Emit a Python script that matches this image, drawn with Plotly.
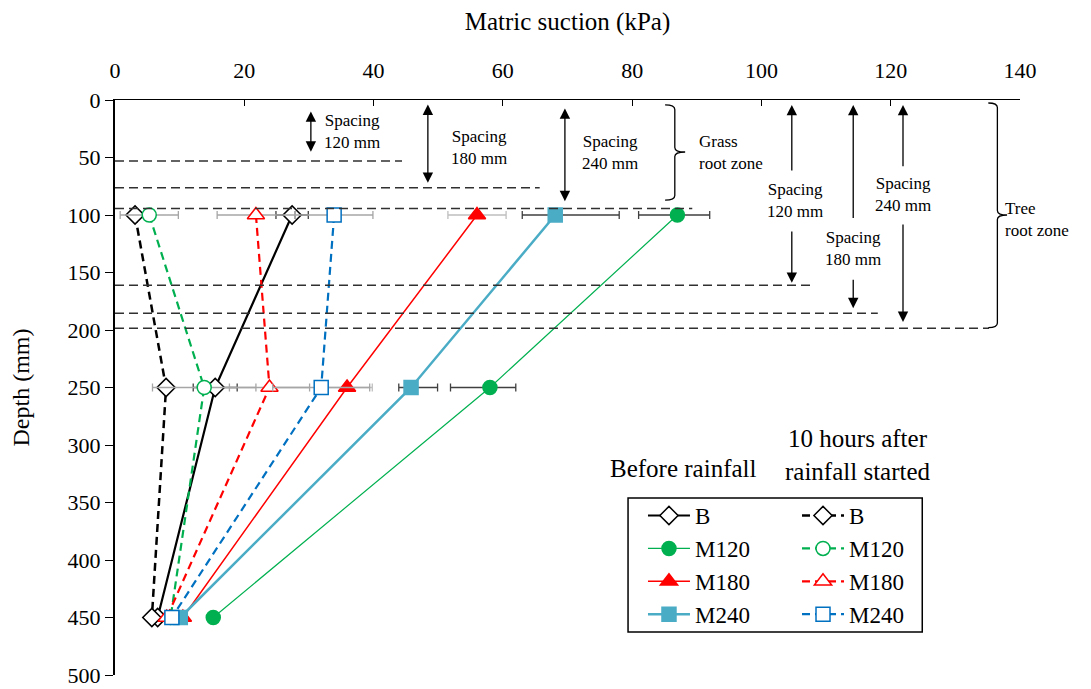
import plotly.graph_objects as go

# ---------------- data ----------------
depth = [100, 250, 450]
b_before = [27.4, 15.5, 6.6]
b_after = [3.1, 7.9, 5.7]
m120_before = [87.0, 58.0, 15.2]
m120_after = [5.3, 13.8, 8.6]
m180_before = [56.0, 35.9, 10.5]
m180_after = [21.8, 23.9, 8.0]
m240_before = [68.1, 45.8, 10.1]
m240_after = [33.9, 31.9, 8.8]

# error bars (kPa) at depth 100 and 250 only
b_before_err = [2.5, 3.4]
m120_before_err_plus = [5.0, 4.0]
m120_before_err_minus = [6.0, 6.1]
m120_after_err = [4.5, 8.0]
m180_before_err = [4.5, 3.9]
m180_after_err = [6.0, 6.2]
m240_before_err_plus = [9.9, 4.1]
m240_before_err_minus = [5.1, 1.9]
m240_after_err = [6.0, 7.5]

x_ticks = [0, 20, 40, 60, 80, 100, 120, 140]
y_ticks = [0, 50, 100, 150, 200, 250, 300, 350, 400, 450, 500]

FONT = "Liberation Serif, Times New Roman, serif"
BLACK = "#000000"
GREEN = "#00B050"
RED = "#FF0000"
CYAN = "#4BACC6"
BLUE = "#0070C0"
DARKBAR = "#404040"
GRAYBAR = "#A6A6A6"

# the page body has an 8px margin: offset the figure so it sits in the window
PAGE_OFF = 8
W, H = 1091 - PAGE_OFF, 689 - PAGE_OFF

fig = go.Figure()


def err(plus, minus=None, color=GRAYBAR):
    d = dict(type="data", array=plus, color=color, thickness=1.3, width=4, visible=True)
    if minus is not None:
        d["symmetric"] = False
        d["arrayminus"] = minus
    return d


def add(x, name, color, width, dash, symbol, filled, legend, size=14, error=None):
    fig.add_trace(go.Scatter(
        x=x, y=depth, name=name, mode="lines+markers", legend=legend,
        line=dict(color=color, width=width, dash=dash),
        marker=dict(symbol=symbol, size=size,
                    color=color if filled else "white",
                    line=dict(color=color, width=1.5)),
        error_x=error, cliponaxis=False,
    ))


DASH = "8px,5px"
# before rainfall (legend 1)
add(b_before, "B", BLACK, 2.2, "solid", "diamond", False, "legend", 14, err(b_before_err, color=DARKBAR))
add(m120_before, "M120", GREEN, 1.2, "solid", "circle", True, "legend", 14,
    err(m120_before_err_plus, m120_before_err_minus, DARKBAR))
add(m180_before, "M180", RED, 1.5, "solid", "triangle-up", True, "legend", 15, err(m180_before_err, color="#BFBFBF"))
add(m240_before, "M240", CYAN, 2.5, "solid", "square", True, "legend", 14,
    err(m240_before_err_plus, m240_before_err_minus, DARKBAR))
# 10 hours after rainfall started (legend 2)
add(b_after, "B", BLACK, 2.5, DASH, "diamond", False, "legend2", 14)
add(m120_after, "M120", GREEN, 2.2, DASH, "circle", False, "legend2", 14, err(m120_after_err))
add(m180_after, "M180", RED, 2.2, DASH, "triangle-up", False, "legend2", 15, err(m180_after_err))
add(m240_after, "M240", BLUE, 2.2, DASH, "square", False, "legend2", 14, err(m240_after_err))

# ---------------- annotation geometry ----------------
shapes = []
# horizontal dashed root-depth lines: (depth, x_end)
for d, xe in [(53, 44.4), (76.3, 65.7), (94.3, 89.3), (161, 107.7), (185.4, 118), (198.5, 135.2)]:
    shapes.append(dict(type="line", xref="x", yref="y", x0=0, x1=xe, y0=d, y1=d,
                       line=dict(color="#303030", width=1.5, dash="9px,5px"), layer="above"))


def brace(xl, xv, xt, yt, ym, yb, r):
    return (f"M{xl},{yt} Q{xv},{yt} {xv},{yt + r} L{xv},{ym - r} Q{xv},{ym} {xt},{ym} "
            f"Q{xv},{ym} {xv},{ym + r} L{xv},{yb - r} Q{xv},{yb} {xl},{yb}")


shapes.append(dict(type="path", xref="x", yref="y", path=brace(85.1, 86.6, 88.2, 4.3, 45.2, 87, 4),
                   line=dict(color="#000000", width=1.3)))
shapes.append(dict(type="path", xref="x", yref="y", path=brace(135.1, 136.5, 138.0, 2.6, 100, 198, 4),
                   line=dict(color="#000000", width=1.3)))
# legend border
shapes.append(dict(type="rect", xref="paper", yref="paper", x0=0.5669, x1=0.892, y0=0.0748, y1=0.3078,
                   line=dict(color="#000000", width=1.5), fillcolor="rgba(0,0,0,0)"))

annotations = []


def arrow(x, y_from, y_to, both=True):
    annotations.append(dict(x=x, y=y_to, ax=x, ay=y_from, xref="x", yref="y", axref="x", ayref="y",
                            text="", showarrow=True, arrowhead=2, arrowsize=1.6, arrowwidth=1.3,
                            arrowcolor="#000000", arrowside="end+start" if both else "end",
                            standoff=0, startstandoff=0))


arrow(30.3, 8.6, 45)
arrow(48.4, 2.6, 72)
arrow(69.6, 6, 88)
for x, top_from, bot_from, bot_to in [(104.7, 62.6, 113, 159), (114.2, 104, 155, 181), (121.9, 59, 107, 193)]:
    arrow(x, top_from, 4.3, both=False)
    arrow(x, bot_from, bot_to, both=False)


def label(x, y, text, size=17, anchor="center"):
    annotations.append(dict(x=x, y=y, xref="x", yref="y", text=text, showarrow=False,
                            xanchor=anchor, yanchor="middle", align="left" if anchor == "left" else "center",
                            font=dict(family=FONT, size=size, color="#000000")))


label(36.7, 27, "Spacing<br>120 mm")
label(56.3, 41, "Spacing<br>180 mm")
label(76.6, 45.6, "Spacing<br>240 mm")
label(90.0, 45.6, "Grass<br>root zone", anchor="left")
label(105.2, 87, "Spacing<br>120 mm")
label(114.2, 129, "Spacing<br>180 mm")
label(121.9, 82.6, "Spacing<br>240 mm")
label(137.4, 103.5, "Tree<br>root zone", anchor="left")
label(87.9, 320.3, "Before rainfall", size=25)
label(114.9, 309, "10 hours after<br>rainfall started", size=25)

legend_common = dict(font=dict(family=FONT, size=23, color="#000000"), bgcolor="rgba(0,0,0,0)",
                     borderwidth=0, xanchor="left", yanchor="top", itemwidth=42, traceorder="normal")

fig.update_layout(
    width=W, height=H,
    margin=dict(l=115 - PAGE_OFF, r=1091 - 1020, t=100 - PAGE_OFF, b=689 - 675),
    paper_bgcolor="white", plot_bgcolor="white",
    font=dict(family=FONT, size=22, color="#000000"),
    xaxis=dict(range=[0, 140], side="top", tickvals=x_ticks, ticks="inside", ticklen=6, tickcolor="#000000",
               showline=True, linecolor="#000000", linewidth=1.2, showgrid=False, zeroline=False,
               automargin=False,
               tickfont=dict(family=FONT, size=22), ticklabelstandoff=12,
               title=dict(text="Matric suction (kPa)", font=dict(family=FONT, size=25), standoff=22)),
    yaxis=dict(range=[500, 0], tickvals=y_ticks, ticks="outside", ticklen=8, tickcolor="#000000",
               showline=True, linecolor="#000000", linewidth=2.2, showgrid=False, zeroline=False,
               automargin=False,
               tickfont=dict(family=FONT, size=22),
               title=dict(text="Depth (mm)", font=dict(family=FONT, size=24), standoff=32)),
    legend=dict(x=0.5834, y=0.3147, **legend_common),
    legend2=dict(x=0.7536, y=0.3147, **legend_common),
    shapes=shapes, annotations=annotations,
    showlegend=True,
)

fig.write_html("out.html")
